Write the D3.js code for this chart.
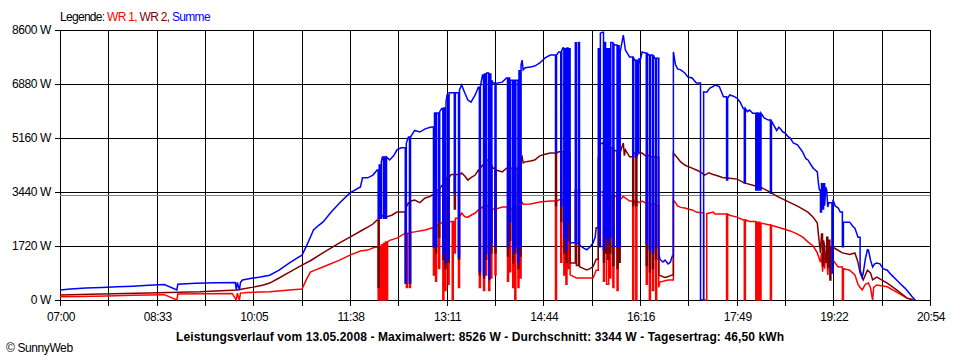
<!DOCTYPE html>
<html><head><meta charset="utf-8">
<script src="https://cdn.jsdelivr.net/npm/d3@7"></script>
<style>
html,body{margin:0;padding:0;background:#fff;}
svg{display:block;}
text{font-family:"Liberation Sans",Arial,sans-serif;}
</style></head>
<body><svg id="c" width="960" height="360"></svg>
<script>
// minutes after 07:00 ; watts
const tickLabels = ["07:00","08:33","10:05","11:38","13:11","14:44","16:16","17:49","19:22","20:54"];
const yTicks = [0,1720,3440,5160,6880,8600];
const average = 3344;
const title = "Leistungsverlauf vom 13.05.2008 - Maximalwert: 8526 W - Durchschnitt: 3344 W - Tagesertrag: 46,50 kWh";
const seriesNames = ["WR 1,","WR 2,","Summe"];
const seriesColors = ["#ff0000","#800000","#0000ff"];

const wr1 = [[0,100],[20,110],[45,130],[70,150],[100,170],[112,0],[113,190],[140,200],[165,210],[169,0],[170,220],[172,0],[173,220],[180,240],[201,260],[220,320],[232,350],[236,640],[240,890],[245,960],[252,1050],[268,1270],[278,1430],[288,1560],[295,1590],[300,1660],[304,1690],[305,0],[306,1700],[307,0],[308,1750],[309,0],[310,1800],[311,0],[312,1850],[313,0],[314,1850],[316,1900],[323,1970],[331,2130],[332,400],[333,2130],[335,400],[336,2150],[340,2170],[350,2230],[357,2300],[358,800],[359,2400],[360,600],[361,2400],[363,1000],[364,2450],[367,0],[368,2480],[369,300],[370,2500],[372,500],[373,2480],[375,2500],[376,0],[377,2500],[378,1500],[379,2600],[382,400],[383,2650],[385,2770],[388,2650],[391,2640],[394,2700],[398,2770],[401,2870],[402,400],[403,2900],[405,2960],[406,300],[407,3000],[408,800],[409,3000],[411,300],[412,3000],[413,700],[414,2900],[417,800],[418,2900],[424,2960],[428,2960],[429,600],[430,2900],[431,900],[432,2900],[434,400],[435,2950],[436,0],[437,2950],[439,400],[440,3100],[441,700],[442,3150],[444,3050],[451,3060],[460,3120],[470,3150],[475,0],[476,3150],[479,3200],[480,1200],[481,3200],[483,800],[484,3200],[485,500],[486,3200],[487,1000],[488,3100],[489,800],[495,700],[505,700],[511,700],[514,950],[516,3440],[518,3440],[521,600],[522,3350],[524,500],[526,3300],[527,700],[528,3300],[530,400],[531,3300],[534,300],[535,3300],[537,3200],[540,3300],[546,3150],[549,0],[550,3200],[551,3100],[552,0],[553,3150],[556,3100],[558,3150],[561,3100],[562,500],[563,3100],[565,0],[566,3050],[568,300],[569,3050],[571,0],[572,3000],[574,400],[575,570],[583,640],[588,3180],[590,3100],[592,3000],[595,2950],[599,2930],[602,2900],[606,2870],[610,2800],[614,2780],[617,0],[620,2750],[626,2800],[628,2740],[635,2740],[639,0],[640,2740],[642,2700],[649,2640],[655,2550],[656,0],[657,2550],[661,2500],[667,0],[668,2480],[669,0],[670,2480],[671,0],[672,2450],[679,2400],[681,0],[682,2380],[690,2300],[700,2200],[707,2100],[712,2000],[717,1850],[722,1720],[726,1500],[729,1200],[730,1500],[731,900],[732,1400],[733,1000],[734,1500],[735,1400],[736,800],[737,1300],[741,1270],[746,1050],[750,0],[751,1000],[757,950],[762,800],[765,500],[767,400],[769,320],[772,500],[775,540],[777,380],[779,0],[780,400],[783,480],[793,420],[802,250],[812,60],[818,0]];

const wr2 = [[0,160],[40,190],[85,220],[134,260],[170,320],[175,350],[185,410],[195,480],[201,540],[210,700],[220,890],[232,1110],[240,1250],[252,1500],[268,1820],[278,2000],[290,2230],[295,2320],[300,2420],[304,2550],[305,400],[306,2600],[308,2700],[312,2640],[318,2700],[323,2800],[331,540],[332,2960],[334,3100],[335,540],[336,3150],[340,3180],[345,3100],[350,3250],[355,3300],[357,3350],[358,1700],[359,3400],[360,1500],[361,3500],[363,2000],[364,3550],[366,3650],[367,1300],[368,3700],[369,1000],[370,3800],[371,3890],[372,1200],[373,3900],[375,4000],[378,2900],[379,4000],[382,1300],[383,4000],[385,4045],[388,3950],[391,3820],[394,3900],[398,3980],[401,4140],[402,800],[403,4200],[405,4300],[406,700],[407,4350],[408,1300],[409,4460],[411,650],[412,4400],[413,1500],[414,4300],[415,4200],[417,1500],[418,4140],[424,4080],[428,4200],[429,1400],[430,4200],[431,1900],[432,4200],[434,1180],[435,4200],[436,1500],[437,4200],[439,1000],[440,4400],[441,1400],[442,4500],[443,4560],[444,4370],[446,4400],[451,4430],[455,4460],[460,4590],[465,4640],[470,4680],[475,3000],[476,4680],[478,4720],[480,2500],[481,4720],[483,1500],[484,4720],[485,1200],[486,4750],[487,1900],[488,4700],[489,1180],[494,3500],[495,1100],[497,3500],[498,1060],[502,1000],[505,960],[508,1000],[511,1060],[514,1300],[516,4500],[518,4970],[520,5000],[521,1200],[522,4900],[523,1500],[524,4800],[525,1300],[526,4800],[527,1500],[528,4850],[530,1100],[531,4800],[532,4750],[534,1000],[535,4750],[536,1200],[537,4700],[540,5000],[541,4600],[542,4780],[546,4560],[549,3000],[550,4680],[552,3000],[553,4600],[555,4680],[558,4680],[561,4600],[562,1100],[563,4600],[565,900],[566,4560],[568,1000],[569,4560],[571,1300],[572,4550],[574,800],[578,740],[580,720],[583,750],[587,800],[588,4680],[590,4600],[592,4520],[595,4400],[599,4300],[602,4250],[606,4200],[610,4140],[614,4080],[618,3980],[622,4050],[626,4000],[628,3980],[635,3900],[642,3880],[649,3850],[656,3730],[665,3650],[671,3600],[679,3470],[687,3310],[697,3150],[707,2990],[717,2800],[722,2640],[726,2450],[727,2100],[729,1500],[730,2100],[731,1100],[732,1900],[733,1700],[734,1200],[735,2000],[736,1050],[737,1900],[738,640],[739,1700],[741,1680],[745,1600],[750,1500],[757,1450],[762,1500],[765,1200],[767,860],[770,640],[774,950],[777,860],[779,640],[783,730],[793,540],[802,320],[812,60],[818,0]];

const summe = [[0,320],[10,350],[25,380],[40,400],[55,420],[70,440],[85,470],[100,490],[112,320],[113,500],[130,530],[150,550],[168,560],[169,320],[170,560],[172,320],[173,560],[175,640],[180,670],[185,700],[192,730],[201,790],[210,950],[220,1180],[228,1350],[232,1430],[236,1700],[240,2000],[243,2230],[248,2380],[252,2480],[260,2800],[268,3090],[278,3410],[288,3600],[290,3890],[295,3890],[300,3980],[304,4140],[305,2600],[306,4300],[307,2600],[308,4400],[309,4555],[310,2600],[311,4555],[312,2600],[313,4555],[316,4460],[320,4600],[323,4780],[327,4850],[331,540],[332,5000],[334,5190],[335,540],[336,5190],[338,5300],[340,5400],[345,5350],[350,5450],[355,5500],[357,5510],[358,1700],[359,5960],[360,1700],[361,5960],[363,2500],[364,6000],[366,6100],[367,1500],[368,6115],[369,1200],[370,6300],[371,6530],[372,1300],[373,6600],[375,6600],[378,3400],[379,6600],[382,1370],[383,6700],[385,6850],[388,6600],[391,6370],[394,6300],[398,6530],[401,6780],[402,900],[403,6800],[405,7170],[406,800],[407,7200],[408,1500],[409,7230],[411,700],[412,7200],[413,1800],[414,7000],[415,6910],[417,1700],[418,6900],[424,6940],[428,7070],[429,1700],[430,7070],[431,2500],[432,7000],[434,1500],[435,7000],[436,1700],[437,7000],[439,1200],[440,7300],[441,1700],[442,7500],[443,7640],[444,7330],[446,7400],[451,7420],[455,7450],[460,7550],[465,7710],[470,7800],[475,4680],[476,7800],[478,7900],[480,3000],[481,7950],[482,8030],[483,2000],[484,8000],[485,1600],[486,8030],[487,2500],[488,8000],[489,1820],[494,8190],[495,1800],[497,8200],[498,1750],[502,1650],[505,1600],[508,1690],[511,1820],[513,2000],[514,2300],[516,8000],[517,1700],[518,8500],[520,8526],[521,1600],[522,8200],[523,2000],[524,8000],[525,1800],[526,8000],[527,2000],[528,8200],[530,1700],[531,8150],[532,8120],[534,1700],[535,8100],[536,1700],[537,7900],[540,8440],[542,7960],[546,7740],[549,4560],[550,7700],[551,7640],[552,4560],[553,7640],[554,4700],[555,7700],[556,7600],[558,7900],[561,7870],[562,1800],[563,7870],[564,7800],[565,1600],[566,7800],[568,1500],[569,7800],[570,7700],[571,1700],[572,7700],[574,1500],[575,1300],[578,1210],[580,1270],[583,1150],[585,1200],[587,1400],[588,7900],[590,7500],[592,7360],[595,7330],[599,7230],[602,7100],[606,7070],[610,6910],[614,0],[617,6630],[620,6620],[623,6750],[626,6800],[628,6850],[632,6800],[636,6470],[639,3820],[640,6430],[642,6530],[645,6500],[649,6430],[652,6300],[655,6100],[656,3730],[657,6100],[659,6000],[661,6050],[664,5950],[667,3500],[668,5960],[669,3500],[670,5950],[671,3500],[672,5950],[675,5800],[679,5730],[681,3400],[682,5700],[683,5640],[687,5400],[689,5500],[690,5480],[693,5350],[695,5320],[698,5200],[700,5160],[703,5000],[707,4940],[710,4800],[712,4710],[715,4500],[717,4460],[720,4300],[722,4200],[724,4140],[726,4080],[727,3730],[728,3500],[729,2800],[730,3700],[731,2900],[732,3700],[733,3000],[734,3600],[735,3500],[736,2960],[737,3100],[740,860],[741,3190],[743,3000],[746,2930],[748,2800],[750,1700],[751,2480],[757,2480],[760,2350],[762,2290],[765,2000],[767,960],[769,730],[770,860],[772,1300],[774,1600],[775,1590],[777,1270],[779,1050],[781,1150],[783,1180],[786,1150],[789,1000],[793,950],[797,800],[802,640],[806,500],[810,380],[814,220],[818,60],[820,0]];

const svg = d3.select("#c");
const L = 60, R = 930, T = 30, B = 300;
const x = d3.scaleLinear().domain([0, 834]).range([L, R]);
const y = d3.scaleLinear().domain([0, 8600]).range([B, T]);
const gridT = d3.range(19).map(i => i * 834 / 18);

// vertical grid + ticks
svg.append("g").selectAll("line").data(gridT).join("line")
  .attr("x1", d => Math.round(x(d)) + 0.5).attr("x2", d => Math.round(x(d)) + 0.5)
  .attr("y1", T).attr("y2", B + 6)
  .attr("stroke", "#000").attr("stroke-width", 1);
// horizontal grid + ticks
svg.append("g").selectAll("line").data(yTicks).join("line")
  .attr("x1", L - 5).attr("x2", R + 0.5)
  .attr("y1", d => Math.round(y(d)) + 0.5).attr("y2", d => Math.round(y(d)) + 0.5)
  .attr("stroke", "#000").attr("stroke-width", 1);
// average line
svg.append("line").attr("x1", L).attr("x2", R)
  .attr("y1", Math.round(y(average)) + 0.5).attr("y2", Math.round(y(average)) + 0.5)
  .attr("stroke", "#808080").attr("stroke-width", 1);

// y labels
svg.append("g").selectAll("text").data(yTicks).join("text")
  .attr("x", 51).attr("y", d => y(d) + 4)
  .attr("text-anchor", "end").attr("font-size", 12).attr("letter-spacing", -0.4)
  .text(d => d + " W");
// x labels
svg.append("g").selectAll("text").data(tickLabels).join("text")
  .attr("x", (d, i) => x(gridT[i * 2]) + 1).attr("y", 321)
  .attr("text-anchor", "middle").attr("font-size", 12).attr("letter-spacing", -0.4)
  .text(d => d);

// series: diagonal for small changes, vertical jump for large changes (spikes)
function pathOf(s) {
  let d = "M" + x(s[0][0]) + "," + y(s[0][1]);
  for (let i = 1; i < s.length; i++) {
    const [t0, v0] = s[i - 1], [t1, v1] = s[i];
    if (Math.abs(v1 - v0) > 600) {
      d += "L" + x(t1) + "," + y(v0) + "L" + x(t1) + "," + y(v1);
    } else {
      d += "L" + x(t1) + "," + y(v1);
    }
  }
  return d;
}
[wr1, wr2, summe].forEach((s, i) => {
  svg.append("path").attr("d", pathOf(s))
    .attr("fill", "none").attr("stroke", seriesColors[i]).attr("stroke-width", 1.5)
    .attr("stroke-linejoin", "miter");
});

// legend
const leg = svg.append("text").attr("x", 60).attr("y", 21).attr("font-size", 12).attr("letter-spacing", -0.7);
leg.append("tspan").attr("fill", "#000").text("Legende: ");
seriesNames.forEach((n, i) => leg.append("tspan").attr("fill", seriesColors[i]).text(n + (i < 2 ? " " : "")));

// title
svg.append("text").attr("x", 480).attr("y", 341).attr("text-anchor", "middle")
  .attr("font-size", 12).attr("font-weight", "bold")
  .attr("textLength", 608).attr("lengthAdjust", "spacing").text(title);
svg.append("text").attr("x", 6).attr("y", 352).attr("font-size", 12).attr("letter-spacing", -0.4).text("\u00A9 SunnyWeb");
</script></body></html>
